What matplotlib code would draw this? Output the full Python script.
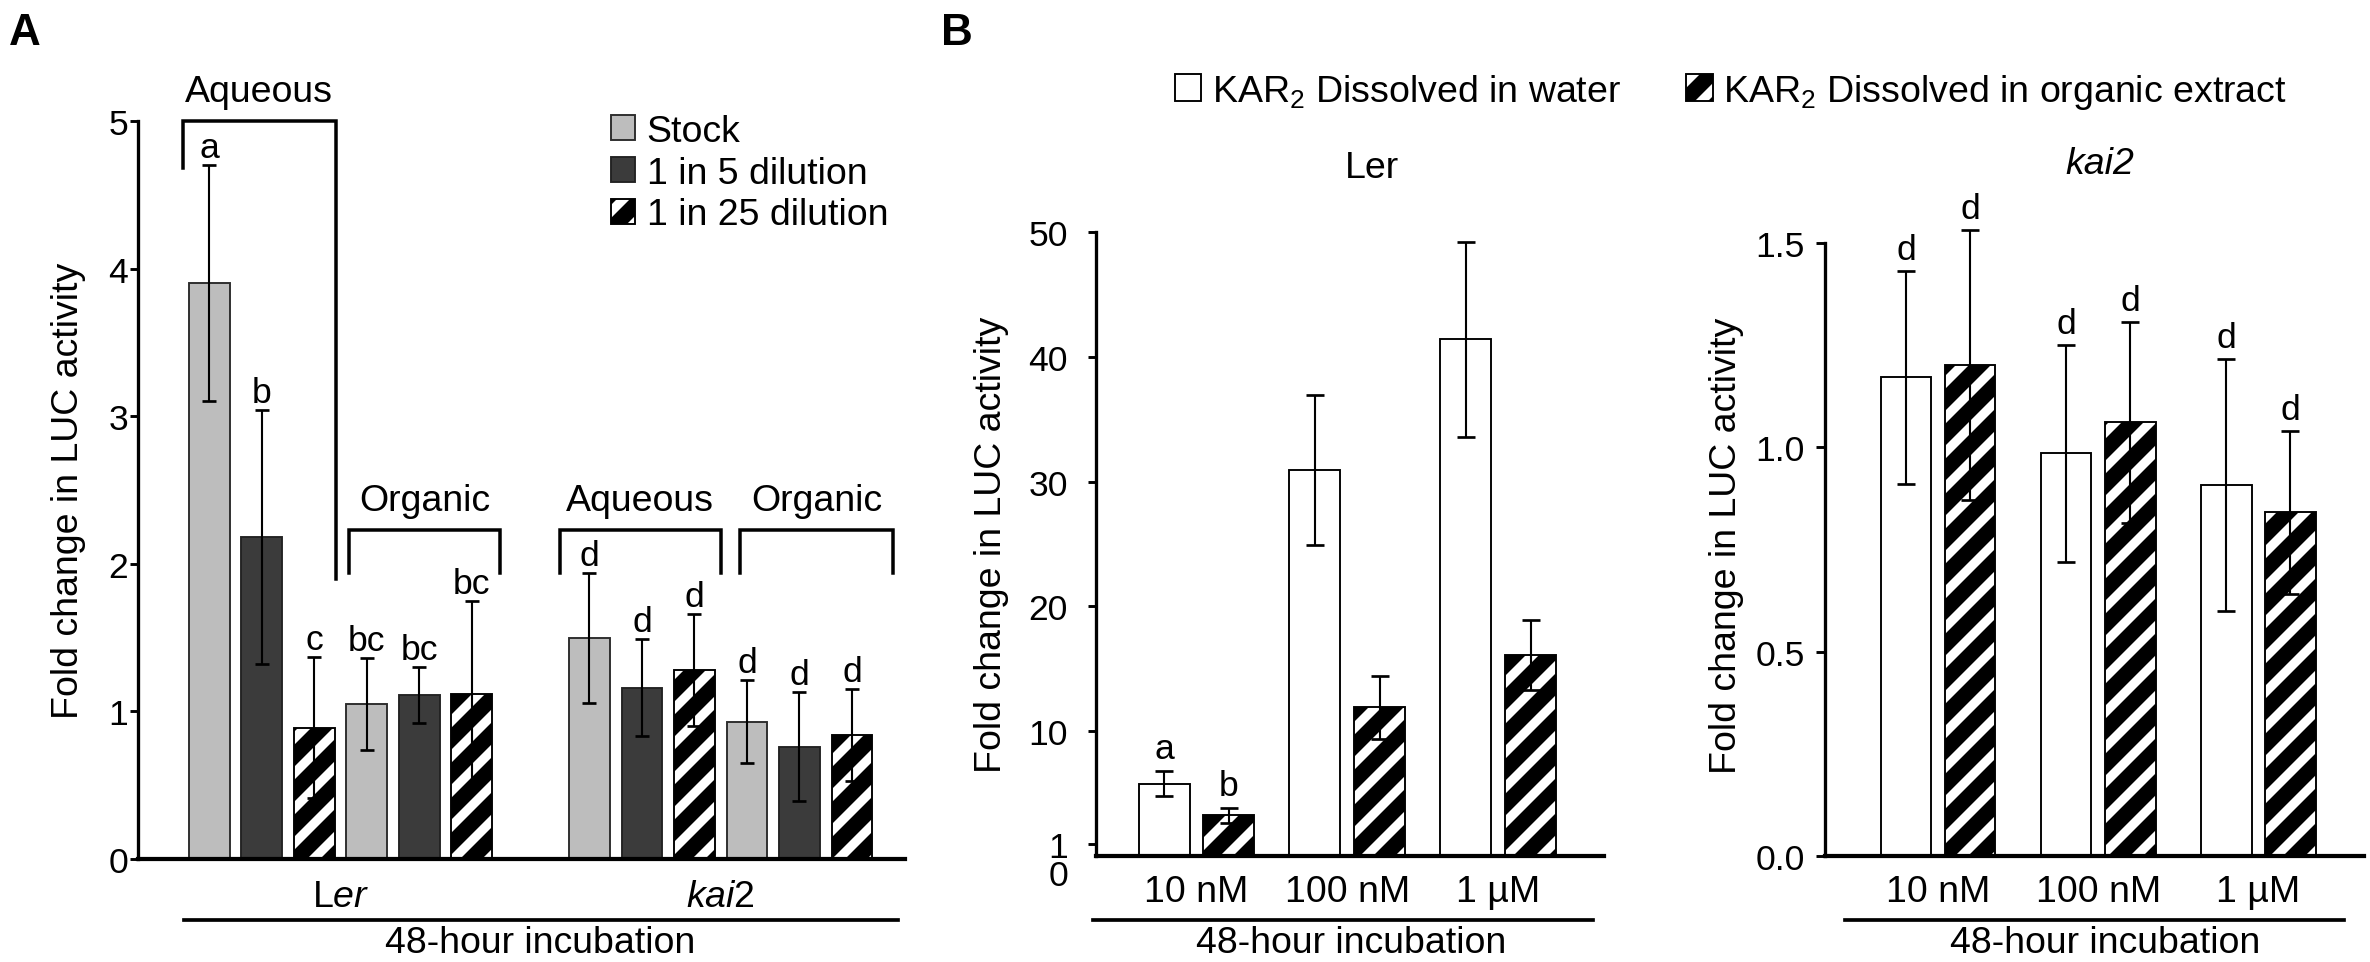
import numpy as np
import matplotlib
matplotlib.use("Agg")
import matplotlib.pyplot as plt
from matplotlib.patches import Patch
from matplotlib.lines import Line2D

# ---- panel A data (order: Aqueous Stock, 1/5, 1/25, Organic Stock, 1/5, 1/25)
dilutions = ['Stock', '1 in 5 dilution', '1 in 25 dilution']
geno_a = ['L$\\mathit{er}$', '$\\mathit{kai2}$']
ler_mean = [3.90, 2.18, 0.89, 1.05, 1.11, 1.12]
ler_err = [0.80, 0.86, 0.48, 0.31, 0.19, 0.63]
ler_sig = ['a', 'b', 'c', 'bc', 'bc', 'bc']
kai2_mean = [1.50, 1.16, 1.28, 0.93, 0.76, 0.84]
kai2_err = [0.44, 0.33, 0.38, 0.28, 0.37, 0.31]
kai2_sig = ['d', 'd', 'd', 'd', 'd', 'd']

# ---- panel B data
conc = ['10 nM', '100 nM', '1 µM']
ler_water = [5.8, 30.9, 41.4]
ler_water_err = [1.0, 6.0, 7.8]
ler_org = [3.25, 11.9, 16.1]
ler_org_err = [0.6, 2.5, 2.8]
ler_water_sig = ['a', '', '']
ler_org_sig = ['b', '', '']
k_water = [1.17, 0.985, 0.907]
k_water_err = [0.26, 0.265, 0.307]
k_org = [1.20, 1.06, 0.84]
k_org_err = [0.33, 0.245, 0.20]
k_water_sig = ['d', 'd', 'd']
k_org_sig = ['d', 'd', 'd']

# dpi chosen so the '//' hatch gives ~35 px stripe period like the figure
W, H, DPI = 2370, 963, 210
HATCH = '//'


def P(px):
    # pixels -> points
    return px * 72.0 / DPI


plt.rcParams['font.family'] = ['Liberation Sans', 'DejaVu Sans']
plt.rcParams['mathtext.fontset'] = 'custom'
plt.rcParams['mathtext.rm'] = 'Liberation Sans'
plt.rcParams['mathtext.it'] = 'Liberation Sans:italic'
plt.rcParams['mathtext.bf'] = 'Liberation Sans:bold'
plt.rcParams['hatch.linewidth'] = P(15.5)
plt.rcParams['hatch.color'] = 'black'

FS = P(37.5)
TICKFS = P(35.5)
SIGFS = P(35.5)

fig = plt.figure(figsize=(W / DPI, H / DPI), dpi=DPI)


def add_axes_px(l, t, r, b):
    return fig.add_axes([l / W, 1 - b / H, (r - l) / W, (b - t) / H])


def fx(x):
    return x / W


def fy(y):
    return 1 - y / H


def style_axes(ax, ypad, ticklen):
    for s in ['top', 'right']:
        ax.spines[s].set_visible(False)
    ax.spines['left'].set_linewidth(P(3.3))
    ax.spines['bottom'].set_linewidth(P(4.2))
    ax.tick_params(axis='y', direction='out', length=P(ticklen), width=P(2.9),
                   pad=P(ypad), labelsize=TICKFS)
    ax.tick_params(axis='x', length=0, labelsize=FS)


face = {'Stock': '#bdbdbd', '1 in 5 dilution': '#3b3b3b', '1 in 25 dilution': 'white'}
hatches = {'Stock': None, '1 in 5 dilution': None, '1 in 25 dilution': HATCH}
edges = {'Stock': '#2b2b2b', '1 in 5 dilution': '#222222', '1 in 25 dilution': 'black'}
BAR_LW = P(1.9)

# ================= Panel A =================
axA = add_axes_px(138, 122, 905, 860)
style_axes(axA, 2, 8)
bw = 0.78
x_ler = np.arange(len(ler_mean))
x_kai2 = np.arange(len(kai2_mean)) + 7.24
for xs, means, errs, sigs in [(x_ler, ler_mean, ler_err, ler_sig),
                              (x_kai2, kai2_mean, kai2_err, kai2_sig)]:
    for i, (x, m) in enumerate(zip(xs, means)):
        d = dilutions[i % 3]
        axA.bar(x, m, bw, color=face[d], edgecolor=edges[d], hatch=hatches[d],
                linewidth=BAR_LW, zorder=2)
    axA.errorbar(xs, means, yerr=errs, fmt='none', ecolor='black',
                 elinewidth=P(2.1), capsize=P(7), capthick=P(2.7), zorder=3,
                 clip_on=False)
    for x, m, e, s in zip(xs, means, errs, sigs):
        axA.annotate(s, (x, m + e), xytext=(0, P(1)), textcoords='offset points',
                     ha='center', va='bottom', fontsize=SIGFS,
                     annotation_clip=False)

axA.set_xlim(-1.36, 13.25)
axA.set_ylim(0, 5)
axA.set_yticks([0, 1, 2, 3, 4, 5])
axA.set_xticks([x_ler.mean(), x_kai2.mean()])
axA.set_xticklabels(geno_a)
axA.tick_params(axis='x', pad=P(20))

# brackets: x0, x1, top, left leg end, right leg end, label
brackets = [(-0.51, 2.41, 5.0, 4.68, 1.90, 'Aqueous'),
            (2.65, 5.54, 2.23, 1.94, 1.94, 'Organic'),
            (6.67, 9.74, 2.23, 1.94, 1.94, 'Aqueous'),
            (10.11, 13.03, 2.23, 1.94, 1.94, 'Organic')]
for x0, x1, top, yl, yr, lab in brackets:
    axA.plot([x0, x0, x1, x1], [yl, top, top, yr], color='black', lw=P(3.5),
             clip_on=False, solid_joinstyle='miter', zorder=4)
    axA.text((x0 + x1) / 2, top + 0.137, lab, ha='center', va='baseline',
             fontsize=FS, clip_on=False)

axA.legend([Patch(facecolor=face[d], edgecolor=edges[d], hatch=hatches[d],
                  linewidth=BAR_LW) for d in dilutions], dilutions,
           loc='center left', bbox_to_anchor=(fx(611), fy(174)),
           bbox_transform=fig.transFigure, frameon=False, fontsize=FS,
           borderpad=0, borderaxespad=0, handlelength=0.65,
           handleheight=0.65, handletextpad=0.3, labelspacing=0.18)

# ================= Panel B =================
axL = add_axes_px(1096, 233, 1604, 857)
axK = add_axes_px(1824.5, 243.5, 2364, 857)
style_axes(axL, 20, 8)
style_axes(axK, 10.5, 9)


def draw_b(ax, water, werr, org, oerr, wsig, osig, off, width, sig_pad):
    xc = np.arange(len(water))
    ax.bar(xc - off, water, width, color='white', edgecolor='black',
           linewidth=BAR_LW, zorder=2)
    ax.bar(xc + off, org, width, color='white', edgecolor='black', hatch=HATCH,
           linewidth=BAR_LW, zorder=2)
    for xs, m, e, s in [(xc - off, water, werr, wsig), (xc + off, org, oerr, osig)]:
        ax.errorbar(xs, m, yerr=e, fmt='none', ecolor='black', elinewidth=P(2.1),
                    capsize=P(9), capthick=P(2.7), zorder=3, clip_on=False)
        for x, mm, ee, ss in zip(xs, m, e, s):
            if ss:
                ax.annotate(ss, (x, mm + ee), xytext=(0, P(sig_pad)),
                            textcoords='offset points', ha='center',
                            va='bottom', fontsize=SIGFS, annotation_clip=False)
    ax.set_xticks(xc)
    ax.set_xticklabels(conc)
    ax.tick_params(axis='x', pad=P(18))


draw_b(axL, ler_water, ler_water_err, ler_org, ler_org_err,
       ler_water_sig, ler_org_sig, 0.215, 0.338, 6)
axL.set_xlim(-0.666, 2.70)
axL.set_ylim(0, 50)
axL.set_yticks([1, 10, 20, 30, 40, 50])
axL.annotate('0', (0, 0), xycoords=('axes fraction', 'data'),
             xytext=(-P(8 + 20), -P(20)), textcoords='offset points',
             ha='right', va='center', fontsize=TICKFS)

draw_b(axK, k_water, k_water_err, k_org, k_org_err,
       k_water_sig, k_org_sig, 0.20, 0.316, 5)
axK.set_xlim(-0.709, 2.66)
axK.set_ylim(0, 1.5)
axK.set_yticks([0.0, 0.5, 1.0, 1.5])
axK.set_yticklabels(['0.0', '0.5', '1.0', '1.5'])

fig.legend([Patch(facecolor='white', edgecolor='black', linewidth=BAR_LW),
            Patch(facecolor='white', edgecolor='black', hatch=HATCH, linewidth=BAR_LW)],
           ['KAR$_2$ Dissolved in water', 'KAR$_2$ Dissolved in organic extract'],
           loc='center left', bbox_to_anchor=(fx(1175), fy(92)), ncol=2,
           frameon=False, fontsize=FS, borderpad=0, borderaxespad=0,
           handlelength=0.7, handleheight=0.7, handletextpad=0.28,
           columnspacing=1.75)

fig.text(fx(1372), fy(178), 'Ler', ha='center', va='baseline', fontsize=FS)
fig.text(fx(2100), fy(174), 'kai2', ha='center', va='baseline', fontsize=FS,
         style='italic')

# ---- y labels, underlines, bottom captions, panel letters
for x, y in [(69, 491), (992, 545), (1726, 546)]:
    fig.text(fx(x), fy(y), 'Fold change in LUC activity', rotation=90,
             ha='center', va='center', fontsize=FS)

for x0, x1, xm in [(184, 898, 540), (1093, 1593, 1351), (1845, 2344, 2105)]:
    fig.add_artist(Line2D([fx(x0), fx(x1)], [fy(921), fy(921)], color='black',
                          lw=P(3.7), transform=fig.transFigure))
    fig.text(fx(xm), fy(953), '48-hour incubation', ha='center', va='baseline',
             fontsize=FS)

fig.text(fx(9), fy(45), 'A', ha='left', va='baseline', fontsize=P(44),
         fontweight='bold')
fig.text(fx(941), fy(45), 'B', ha='left', va='baseline', fontsize=P(44),
         fontweight='bold')

fig.savefig('out.png', dpi=DPI)
